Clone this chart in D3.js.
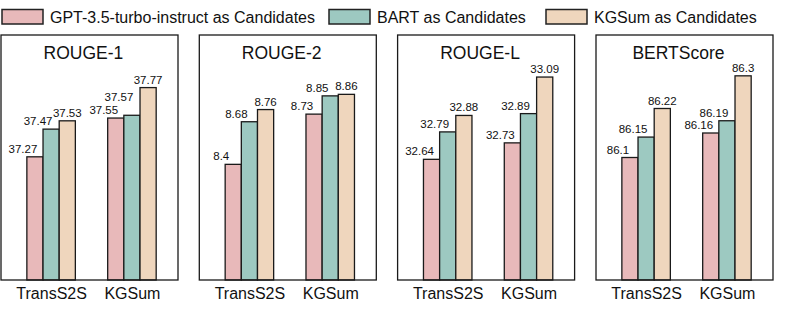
<!DOCTYPE html>
<html>
<head>
<meta charset="utf-8">
<script src="https://cdn.jsdelivr.net/npm/d3@7"></script>
<style>
  body { margin: 0; background: #fff; }
  svg { font-family: "Liberation Sans", Arial, sans-serif; }
</style>
</head>
<body>
<svg width="789" height="310"></svg>
<script>
// data
const metrics = ['ROUGE-1', 'ROUGE-2', 'ROUGE-L', 'BERTScore'];
const models = ['TransS2S', 'KGSum'];
const seriesNames = ['GPT-3.5-turbo-instruct as Candidates', 'BART as Candidates', 'KGSum as Candidates'];

// values[metric][series] = [TransS2S, KGSum]
const gptVals  = [[37.27, 37.55], [8.4, 8.73], [32.64, 32.73], [86.1, 86.16]];
const bartVals = [[37.47, 37.57], [8.68, 8.85], [32.79, 32.89], [86.15, 86.19]];
const kgVals   = [[37.53, 37.77], [8.76, 8.86], [32.88, 33.09], [86.22, 86.3]];

// y limits of each panel
const yLimits = [[36.38, 38.15], [7.64, 9.25], [31.98, 33.32], [85.80, 86.40]];

const colors = ['#e8b9ba', '#9dc9c1', '#efd6bd'];
const labelDx = [-12, -13, 0];

const svg = d3.select('svg');

// legend
const legendX = [2, 329, 546];
const leg = svg.append('g');
seriesNames.forEach((name, i) => {
  leg.append('rect')
    .attr('x', legendX[i]).attr('y', 9.5)
    .attr('width', 41).attr('height', 14.5)
    .attr('fill', colors[i])
    .attr('stroke', '#222').attr('stroke-width', 1.5);
  leg.append('text')
    .attr('x', legendX[i] + 48).attr('y', 23)
    .attr('font-size', 16)
    .attr('fill', '#111')
    .text(name);
});

// panels
const panelW = 177, boxTop = 35, boxBottom = 280;
const panelLeft = [1, 199.3, 397.6, 596];

metrics.forEach((metric, m) => {
  const g = svg.append('g').attr('transform', `translate(${panelLeft[m]},0)`);

  const x = d3.scaleLinear().domain([-0.62, 1.57]).range([0, panelW]);
  const y = d3.scaleLinear().domain(yLimits[m]).range([boxBottom, boxTop]);
  const bw = x(0.2) - x(0);

  const allVals = [gptVals[m], bartVals[m], kgVals[m]];

  const rows = [];
  models.forEach((mod, j) => {
    allVals.forEach((vals, s) => {
      rows.push({ j: j, s: s, v: vals[j] });
    });
  });

  g.append('g')
    .selectAll('rect').data(rows).enter().append('rect')
    .attr('x', d => x(d.j + (d.s - 1) * 0.2) - bw / 2)
    .attr('y', d => y(d.v))
    .attr('width', bw)
    .attr('height', d => boxBottom - y(d.v))
    .attr('fill', d => colors[d.s])
    .attr('stroke', '#1a1a1a')
    .attr('stroke-width', 1.3);

  // value labels
  const labels = g.selectAll('text.val').data(rows).enter().append('text')
    .attr('class', 'val')
    .attr('x', d => x(d.j + (d.s - 1) * 0.2) + labelDx[d.s])
    .attr('y', d => y(d.v) - 4)
    .attr('text-anchor', 'middle')
    .attr('font-size', 11.5)
    .attr('fill', '#111')
    .text(d => d.v);

  // push a label up if it runs into the previous one in the group
  const nodes = labels.nodes();
  for (let k = 1; k < nodes.length; k++) {
    if (rows[k].j !== rows[k - 1].j) continue;
    const a = nodes[k - 1].getBBox(), b = nodes[k].getBBox();
    const overlapX = b.x < a.x + a.width && a.x < b.x + b.width;
    const overlapY = b.y < a.y + a.height && a.y < b.y + b.height;
    if (overlapX && overlapY) {
      const yy = +d3.select(nodes[k]).attr('y');
      d3.select(nodes[k]).attr('y', yy - (b.y + b.height - a.y) - 1);
    }
  }

  // frame
  g.append('rect')
    .attr('x', 0).attr('y', boxTop)
    .attr('width', panelW).attr('height', boxBottom - boxTop)
    .attr('fill', 'none')
    .attr('stroke', '#1a1a1a').attr('stroke-width', 1.3);

  // title
  g.append('text')
    .attr('x', x(0.4)).attr('y', 58.5)
    .attr('text-anchor', 'middle')
    .attr('font-size', 17.5)
    .attr('fill', '#111')
    .text(metric);

  // x axis labels
  const xAxis = d3.axisBottom(x).tickValues([0, 1]).tickFormat((d, i) => models[i]).tickSize(0).tickPadding(8);
  const ax = g.append('g').attr('transform', `translate(0,${boxBottom})`).call(xAxis);
  ax.select('.domain').remove();
  ax.selectAll('text')
    .attr('font-size', 16)
    .attr('font-family', '"Liberation Sans", Arial, sans-serif')
    .attr('fill', '#111');
});
</script>
</body>
</html>
